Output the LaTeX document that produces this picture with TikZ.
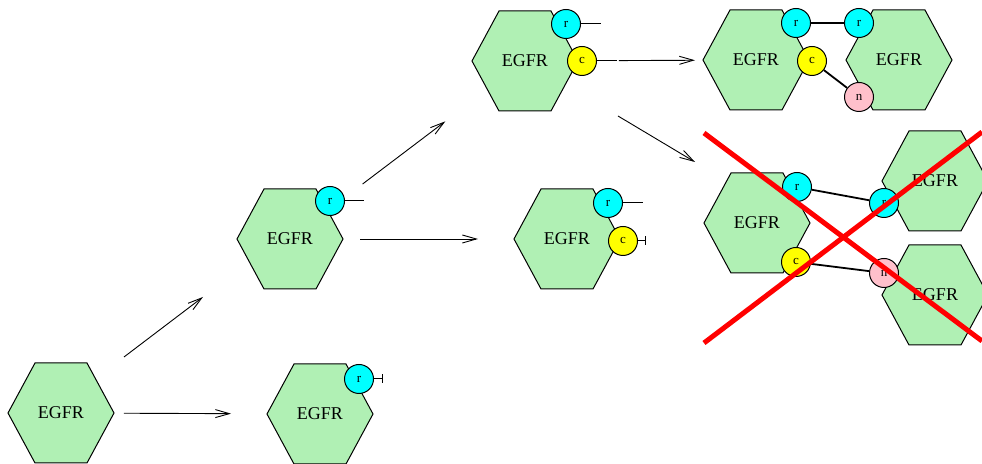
\documentclass[tikz,border=0pt]{standalone}
\usepackage{fontspec}
\setmainfont{Liberation Serif}
\usetikzlibrary{arrows.meta,calc}
\definecolor{egfrgreen}{RGB}{176,240,180}
\definecolor{sitecyan}{RGB}{0,255,255}
\definecolor{siteyellow}{RGB}{255,255,0}
\definecolor{sitepink}{RGB}{255,192,203}
\newcommand{\egfr}[2]{%
  \draw[hexa] (#2) ++(-53,0) -- ++(27,-50) -- ++(52,0) -- ++(27,50) -- ++(-27,50) -- ++(-52,0) -- cycle;
  \node[egfrlabel] (#1) at (#2) {EGFR};}

\begin{document}
\begin{tikzpicture}[x=0.5pt,y=-0.5pt,
  hexa/.style={draw=black,fill=egfrgreen,line width=0.5pt},
  egfrlabel/.style={inner sep=0pt,font=\fontsize{9}{10}\selectfont},
  site/.style={circle,draw=black,line width=0.5pt,minimum size=14.5pt,inner sep=0pt,font=\fontsize{6.5}{7}\selectfont},
  rsite/.style={site,fill=sitecyan},
  csite/.style={site,fill=siteyellow},
  nsite/.style={site,fill=sitepink},
  stub/.style={line width=0.5pt},
  bond/.style={line width=0.9pt},
  react/.style={-{Straight Barb[length=7pt,width=4pt]},line width=0.45pt},
  inhib/.style={-{Bar[width=4.5pt]},line width=0.5pt},
  cross/.style={red,line width=2.5pt,line cap=butt}]
\useasboundingbox (0,0) rectangle (982,464);
\clip (0,0) rectangle (982,464);

\egfr{A}{61,413}
\egfr{B}{290,239}
\egfr{C}{320,414}
\egfr{D}{525,61}
\egfr{E}{567,239}
\egfr{F}{756,60}
\egfr{G}{899,60}
\egfr{X}{757,223}
\egfr{Y}{935,181}
\egfr{Z}{935,295}

\node[rsite] (Br) at ($(B)+(40,-38)$) {r};
\node[rsite] (Cr) at ($(C)+(39,-35)$) {r};
\node[rsite] (Dr) at ($(D)+(41,-37)$) {r};
\node[csite] (Dc) at ($(D)+(57,0)$) {c};
\node[rsite] (Er) at ($(E)+(41,-36)$) {r};
\node[csite] (Ec) at ($(E)+(56,2)$) {c};
\node[rsite] (Fr) at ($(F)+(40,-37)$) {r};
\node[csite] (Fc) at ($(F)+(56,1)$) {c};
\node[rsite] (Gr) at ($(G)+(-40,-37)$) {r};
\node[nsite] (Gn) at ($(G)+(-40,37)$) {n};
\node[rsite] (Xr) at ($(X)+(40,-36)$) {r};
\node[csite] (Xc) at ($(X)+(39,39)$) {c};
\node[rsite] (Yr) at ($(Y)+(-51,22)$) {r};
\node[nsite] (Zn) at ($(Z)+(-51,-22)$) {n};

\coordinate (Brend) at ($(Br)+(34,0)$);
\coordinate (Crend) at ($(Cr)+(24,0)$);
\coordinate (Drend) at ($(Dr)+(35,0)$);
\coordinate (Dcend) at ($(Dc)+(35,0)$);
\coordinate (Erend) at ($(Er)+(35,0)$);
\coordinate (Ecend) at ($(Ec)+(23,0)$);
\coordinate (ABstart) at ($(A)+(63,-56)$);
\coordinate (ABend) at ($(B)+(-87,58)$);
\coordinate (DXstart) at ($(D)+(93,55)$);
\coordinate (DXend) at ($(X)+(-62,-61)$);

\draw[stub] (Br.east) -- (Brend);
\draw[inhib] (Cr.east) -- (Crend);
\draw[stub] (Dr.east) -- (Drend);
\draw[stub] (Dc.east) -- (Dcend);
\draw[stub] (Er.east) -- (Erend);
\draw[inhib] (Ec.east) -- (Ecend);

\draw[bond] (Fr) -- (Gr);
\draw[bond] (Fc) -- (Gn);
\draw[bond] (Xr) -- (Yr);
\draw[bond] (Xc) -- (Zn);

\draw[react] (ABstart) -- (ABend);
\draw[react,shorten <=31.5pt,shorten >=44.5pt] (A.center) -- (C.center);
\draw[react,shorten <=45.5pt,shorten >=50pt] (B.center) -- (D.center);
\draw[react,shorten <=35pt,shorten >=44.5pt] (B.center) -- (E.center);
\draw[react,shorten <=47pt,shorten >=30.5pt] (D.center) -- (F.center);
\draw[react] (DXstart) -- (DXend);

\draw[cross] (704,133) -- (982,341);
\draw[cross] (704,343) -- (982,132);
\end{tikzpicture}
\end{document}
